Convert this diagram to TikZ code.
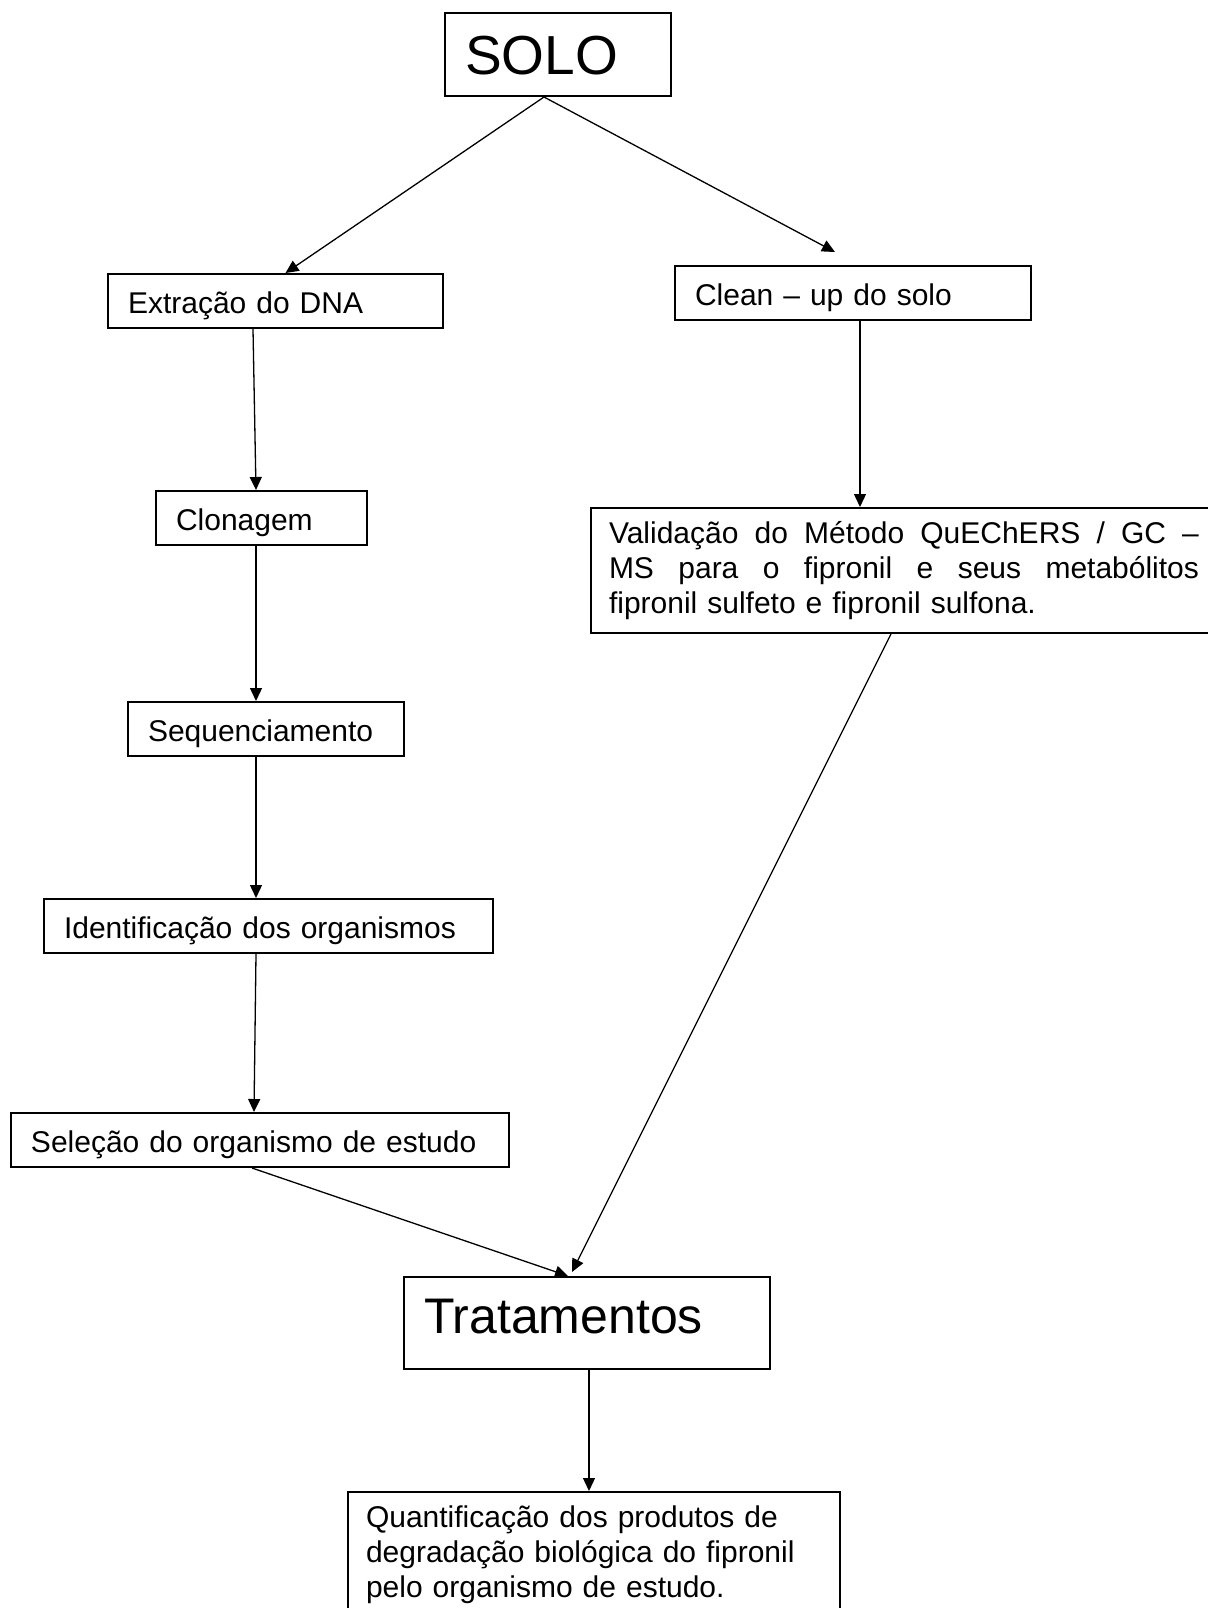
\documentclass[tikz,border=0pt]{standalone}
\usepackage{fontspec}
\setmainfont{Liberation Sans}
\usetikzlibrary{arrows.meta}

\tikzset{
  etapa/.style={draw,line width=1pt,anchor=north west,align=left,inner xsep=10pt,inner ysep=0pt,
    text height=19.5pt,text depth=7.5pt,font=\fontsize{15pt}{17.5pt}\selectfont},
  etapalonga/.style={draw,line width=1pt,anchor=north west,align=left,inner xsep=9pt,inner ysep=0pt,
    font=\fontsize{15pt}{17.5pt}\selectfont},
  seta/.style={-{Triangle[length=6.5pt,width=6pt]},line width=0.65pt}
}

\begin{document}
\begin{tikzpicture}[x=0.5pt,y=-0.5pt]
  \useasboundingbox (0,0) rectangle (1207,1608);
  \node[etapa,text width=93pt,text height=30.5pt,text depth=11pt,font=\fontsize{27.5pt}{30pt}\selectfont] (solo) at (444,12) {SOLO};
  \node[etapa,text width=147.5pt] (extr) at (107,273) {Extração do DNA};
  \node[etapa,text width=158pt] (clean) at (674,265) {Clean – up do solo};
  \node[etapa,text width=85.5pt] (clon) at (155,490) {Clonagem};
  \node[etapa,text width=118pt] (seq) at (127,701) {Sequenciamento};
  \node[etapa,text width=204.5pt] (ident) at (43,898) {Identificação dos organismos};
  \node[etapa,text width=229pt] (sel) at (10,1112) {Seleção do organismo de estudo};
  \node[etapalonga,text width=295pt,minimum height=62.5pt] (valid) at (590,507)
    {\leavevmode\hbox to 295pt{Validação\hfill do\hfill Método\hfill QuEChERS\hfill /\hfill GC\hfill –}\\
     \leavevmode\hbox to 295pt{MS\hfill para\hfill o\hfill fipronil\hfill e\hfill seus\hfill metabólitos}\\
     fipronil sulfeto e fipronil sulfona.};
  \node[etapa,text width=163pt,text height=28pt,text depth=18pt,font=\fontsize{25pt}{28pt}\selectfont] (trat) at (403,1276) {Tratamentos};
  \node[etapalonga,text width=228pt,minimum height=63pt] (quant) at (347,1491)
    {Quantificação dos produtos de\\
     degradação biológica do fipronil\\
     pelo organismo de estudo.};

  \draw[seta] ([xshift=-7pt]solo.south) -- ([xshift=5pt]extr.north);
  \draw[seta] ([xshift=-7pt]solo.south) -- ([xshift=-9pt,yshift=6.5pt]clean.north);
  \draw[seta] ([xshift=-11.25pt]extr.south) -- ([xshift=-2.75pt]clon.north);
  \draw[seta] ([xshift=-2.75pt]clon.south) -- ([xshift=-5pt]seq.north);
  \draw[seta] ([xshift=-5pt]seq.south) -- ([xshift=-6.25pt]ident.north);
  \draw[seta] ([xshift=-6.25pt]ident.south) -- ([xshift=-3pt]sel.north);
  \draw[seta] ([xshift=-4pt]sel.south) -- ([xshift=-9.5pt]trat.north);
  \draw[seta] ([xshift=3.5pt]clean.south) -- ([xshift=-22pt]valid.north);
  \draw[seta] ([xshift=-6.5pt]valid.south) -- ([xshift=-7.5pt,yshift=2pt]trat.north);
  \draw[seta] ([xshift=1pt]trat.south) -- ([xshift=-2.5pt]quant.north);
\end{tikzpicture}
\end{document}
